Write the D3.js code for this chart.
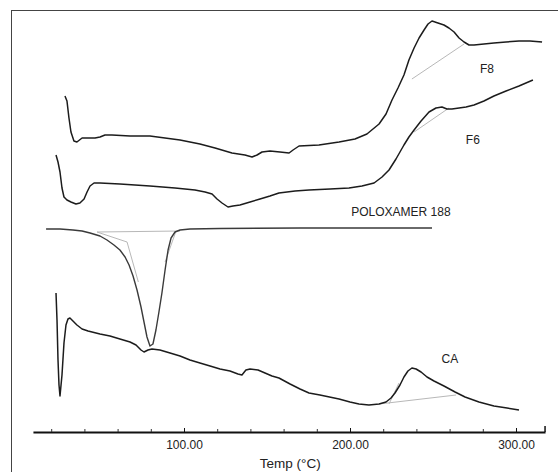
<!DOCTYPE html>
<html>
<head>
<meta charset="utf-8">
<style>
body { margin: 0; background: #fff; }
text { font-family: "Liberation Sans", Arial, sans-serif; fill: #222; }
.curve { fill: none; stroke: #1c1c1c; stroke-width: 1.5; stroke-linejoin: round; }
.guide { fill: none; stroke: #b8b8b8; stroke-width: 1; }
</style>
</head>
<body>
<script src="https://d3js.org/d3.v7.min.js"></script>
<script>

// thermograms: [temperature (°C), heat flow (arbitrary, stacked)]
const f8 = [[28.3,336],[29.5,331],[30.7,314],[31.9,300],[33.7,291],[35.5,290],[38.6,294],[46.4,294],
  [49.4,295],[52.4,297],[56.6,297],[67.5,296],[79.5,296],[97.6,292],[109.6,288],[118.7,284],[128.9,279],
  [136.7,277],[141,275],[144,277],[147,280],[151.8,281],[157.8,280],[163.3,279],[165.7,282],[169.3,286],
  [181.3,287],[193.4,290],[203,293],[210.2,298],[217.5,308],[221.7,318],[225.3,332],[228.9,344],
  [232.5,357],[235.5,372],[238.6,384],[241.6,394],[244.6,402],[247,408],[249.4,411],[253,409],
  [256.6,407],[259.6,404],[262.7,400],[265.7,394],[268.7,390],[271.7,387],[274.7,387],[280.7,388],
  [286.7,389],[294,390],[301.8,391],[308.4,391],[315.7,390]];

const f6 = [[22.9,277],[24.1,270],[25.3,260],[26.5,244],[27.7,235],[29.5,232],[31.9,230],[34.9,228],
  [37.3,229],[39.8,233],[41.6,240],[43.4,246],[45.8,249],[49.4,249],[61.4,248],[79.5,246],[94.6,244],
  [106.6,242],[112.7,240],[116.9,238],[119.9,233],[122.9,229],[126.5,225],[129.5,226],[133.7,227],
  [139.8,230],[145.8,233],[151.8,236],[157.2,239],[166.9,241],[175.3,242],[188,243],[199.4,244],
  [207.2,246],[214.5,249],[219.3,255],[223.5,262],[227.7,273],[232.5,287],[235.5,295],[238.6,302],
  [242.8,311],[247.6,320],[251.8,324],[255.4,325],[258.4,323],[261.4,323],[265.7,324],[269.9,325],
  [274.7,327],[280.7,331],[286.7,336],[294,341],[301.8,346],[310.2,352]];

const poloxamer = [[16.9,203],[25.3,203],[33.1,202],[38.6,201],[43.4,199],[49.4,196],[53.6,192],
  [57.8,187],[61.4,182],[64.5,175],[66.9,167],[69.3,156],[71.7,142],[74.1,125],[75.9,110],[77.7,95],
  [79.5,86],[81.3,88],[83.1,102],[84.9,120],[86.7,139],[88.6,162],[90.4,182],[92.2,194],[94.6,200],
  [97.6,202],[103.6,203],[121.7,203.5],[169.9,204],[249.4,204]];

const ca = [[22.9,139],[23.5,112],[24.1,72],[24.7,47],[25.3,36],[26.5,57],[27.7,89],[28.9,107],
  [30.1,113],[31.3,114],[33.1,111],[35.5,107],[38.6,103],[42.2,101],[49.4,98],[55.4,96],[61.4,93],
  [67.5,90],[71.1,87],[74.1,82],[75.9,80],[78.3,82],[80.7,83],[85.5,82],[91.6,79],[97.6,76],
  [103.6,72],[109.6,69],[115.7,66],[121.7,63],[127.7,61],[132.5,58],[134.9,57],[137.3,62],[139.8,63],
  [144.6,62],[148.8,59],[153,56],[157.2,54],[163.9,48],[169.9,43],[175.3,39],[181.9,37],[193.4,33],
  [200,30],[205.4,28],[211.4,27],[217.5,28],[221.7,30],[224.7,34],[227.1,39],[230.1,47],[232.5,55],
  [234.9,61],[237.3,64],[239.8,63],[242.8,60],[246.4,55],[250.6,51],[256.6,46],[263.3,40],[269.3,35],
  [277.7,30],[286.7,26],[294.6,24],[301.8,22]];

// baseline / onset construction lines
const guides = [
  [[237.3,353],[268.7,388]],
  [[238.6,300],[259.6,324]],
  [[47.6,200],[65.7,190],[72.5,150]],
  [[47.6,200],[97.6,201]],
  [[88.6,170],[95.2,201]],
  [[217.5,28],[263.9,37]],
  [[223.5,28],[229.5,49]]
];

const labels = ["F8", "F6", "POLOXAMER 188", "CA"];
const labelPos = [[282.5,359],[274,288],[230.7,216],[260.2,69]];

const tickMinor = d3.range(20, 301, 20);
const tickMajor = [100, 200, 300];

const W = 558, H = 472;
const x = d3.scaleLinear().domain([0, 300]).range([18, 516]);
const y = d3.scaleLinear().domain([0, 420]).range([432, 12]);

const svg = d3.select("body").append("svg")
    .attr("width", W)
    .attr("height", H);

// frame (runs off the right and bottom edge)
svg.append("rect")
    .attr("x", 11.5).attr("y", 10.5)
    .attr("width", W + 10).attr("height", H + 10)
    .attr("fill", "none")
    .attr("stroke", "#444")
    .attr("stroke-width", 1);

const line = d3.line().x(d => x(d[0])).y(d => y(d[1]));

svg.selectAll(".guide")
    .data(guides)
  .enter().append("path")
    .attr("class", "guide")
    .attr("d", line);

svg.append("path").attr("class", "curve").attr("d", line(f8));
svg.append("path").attr("class", "curve").attr("d", line(f6));
svg.append("path").attr("class", "curve")
    .style("stroke", "#3a3a3a").style("stroke-width", 1.4)
    .attr("d", line(poloxamer));
svg.append("path").attr("class", "curve").attr("d", line(ca));

svg.selectAll(".lbl")
    .data(labels)
  .enter().append("text")
    .attr("class", "lbl")
    .attr("x", (d, i) => x(labelPos[i][0]))
    .attr("y", (d, i) => y(labelPos[i][1]))
    .attr("text-anchor", "middle")
    .style("font-size", "12px")
    .text(d => d);

// x axis
const xa = x.copy().domain([9, 317.5]).range([x(9), x(317.5)]);
const axisY = y(0);

const gMinor = svg.append("g")
    .attr("transform", "translate(0," + axisY + ")")
    .call(d3.axisBottom(xa).tickValues(tickMinor).tickSizeInner(-3).tickSizeOuter(0).tickFormat(""));
gMinor.selectAll(".tick line").attr("stroke", "#333");
gMinor.select(".domain").attr("stroke", "#111").attr("stroke-width", 1.8);

const gMajor = svg.append("g")
    .attr("transform", "translate(0," + axisY + ")")
    .call(d3.axisBottom(xa).tickValues(tickMajor).tickSizeInner(-4).tickSizeOuter(0).tickPadding(8).tickFormat(d3.format(".2f")));
gMajor.select(".domain").remove();
gMajor.selectAll(".tick line").attr("stroke", "#111");
gMajor.selectAll("text")
    .style("font-family", "'Liberation Sans', Arial, sans-serif")
    .style("font-size", "12px")
    .attr("fill", "#222");

// right end mark
svg.append("line")
    .attr("x1", xa(317.5)).attr("x2", xa(317.5))
    .attr("y1", axisY - 6).attr("y2", axisY)
    .attr("stroke", "#111").attr("stroke-width", 1.5);

svg.append("text")
    .attr("x", x(164))
    .attr("y", axisY + 36)
    .attr("text-anchor", "middle")
    .style("font-size", "13.5px")
    .text("Temp (°C)");

</script>
</body>
</html>
